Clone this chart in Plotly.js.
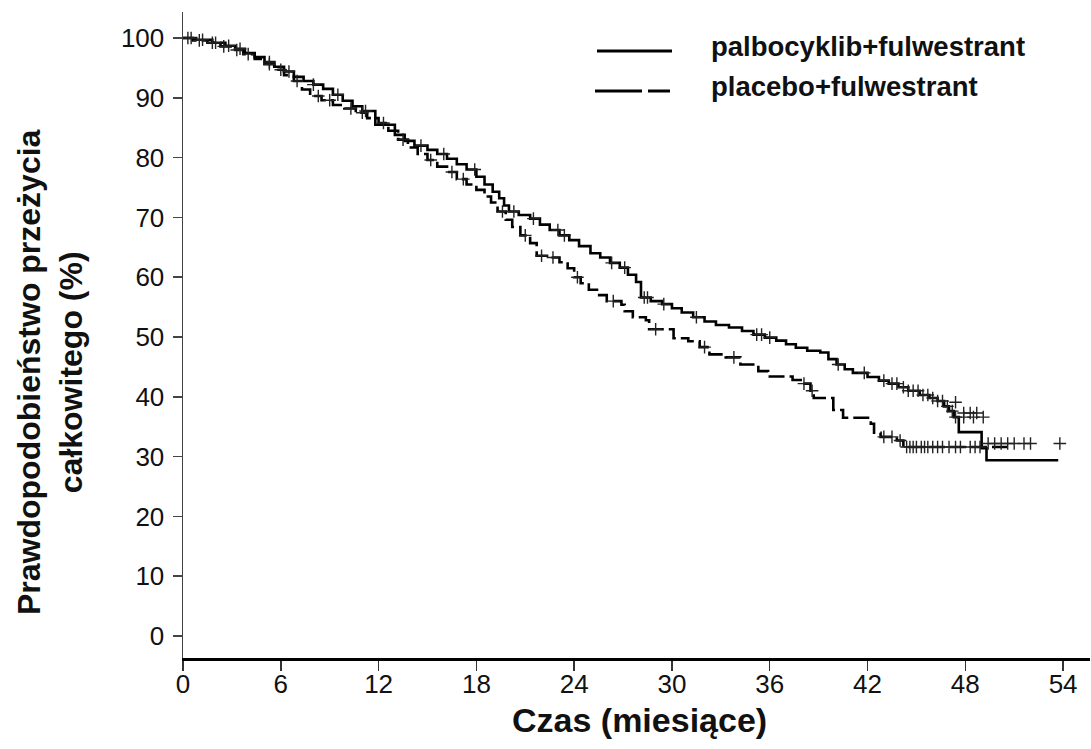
<!DOCTYPE html>
<html><head><meta charset="utf-8">
<script src="https://cdn.plot.ly/plotly-3.0.1.min.js"></script>
<style>html,body{margin:0;padding:0;background:#fff}#chart{width:1091px;height:749px}</style>
</head><body><div id="chart"></div>
<script>
// Kaplan-Meier step curves (time in months, survival %)
const palboTime = [0,0.8,1.8,2.6,3.2,3.8,4.4,5.0,5.6,6.2,6.8,7.4,8.0,8.6,9.2,9.8,10.4,11.0,11.8,13.0,13.6,14.2,15.0,15.6,16.2,16.8,17.4,18.0,18.5,19.0,19.4,19.7,20.0,20.6,21.3,21.9,22.5,23.1,23.7,24.3,25.0,25.6,26.2,26.8,27.3,27.8,28.1,28.7,29.4,30.0,30.6,31.3,32.0,32.7,33.5,34.3,35.0,35.7,36.4,37.0,37.6,38.3,39.1,39.6,40.1,40.6,41.1,42.0,42.7,43.3,43.9,44.5,45.2,45.8,46.3,46.7,47.0,47.3,47.6,49.0,49.3,53.7];
const palboSurv = [100,99.7,99.2,98.7,98.2,97.5,96.8,96.0,95.2,94.4,93.5,92.8,92.2,91.5,90.5,89.5,88.6,87.8,85.5,83.8,82.8,82.0,81.3,80.6,79.8,78.9,78.0,76.8,75.5,74.3,73.2,72.0,71.0,70.4,69.8,68.8,67.9,67.0,66.2,65.2,64.0,63.3,62.4,61.6,60.4,59.2,56.6,56.0,55.5,54.8,54.1,53.3,52.6,52.0,51.6,51.0,50.4,49.9,49.4,48.8,48.2,47.7,47.4,46.3,45.4,44.6,44.0,43.3,42.7,42.2,41.6,41.0,40.3,39.8,39.3,38.4,37.6,36.6,34.1,31.4,29.4,29.4];

const placeboTime = [0,0.6,1.5,2.3,3.0,3.7,4.4,5.0,5.6,6.2,6.8,7.3,7.8,8.5,9.2,9.9,10.6,11.3,12.0,12.6,13.2,13.8,14.4,15.0,15.6,16.2,16.8,17.4,18.0,18.5,18.9,19.3,19.8,20.2,20.7,21.3,21.7,22.5,23.1,23.6,24.0,24.4,24.9,25.4,26.0,26.9,27.1,27.6,28.4,28.6,30.1,31.0,31.7,32.3,33.3,34.2,35.3,35.9,37.4,37.9,38.5,38.7,39.9,40.5,42.2,42.4,42.8,43.8,44.2,50.9];
const placeboSurv = [100,99.6,99.2,98.6,98.0,97.3,96.5,95.6,94.7,93.8,92.8,91.4,90.3,89.6,88.8,88.2,87.5,86.6,85.8,84.5,83.0,81.7,80.6,79.6,78.5,77.6,76.4,75.5,74.6,73.5,72.5,71.0,69.6,68.4,67.0,65.7,63.6,63.3,62.5,61.5,60.0,59.0,57.9,57.0,56.0,55.4,54.3,53.3,52.8,51.3,49.8,49.3,48.3,47.1,46.6,45.4,44.3,43.4,42.8,42.2,41.0,39.8,37.8,36.5,35.5,34.0,33.3,32.7,31.6,31.6];

// censored observations (+ marks)
const palboCensTime = [0.5,1.2,2.0,2.8,3.5,5.3,6.5,8.0,9.5,11.2,14.6,16.0,17.9,20.3,21.5,23.0,23.4,26.3,27.1,28.3,28.5,29.5,31.5,35.2,35.5,36.0,40.2,41.8,43.0,43.5,43.8,44.2,44.5,44.8,45.1,45.4,45.7,46.0,46.3,46.6,46.9,47.2,47.4,47.4,47.9,48.3,48.7,47.9,48.5,49.1];
const palboCensSurv = [100,99.7,99.2,98.7,98.2,96.0,94.4,92.2,90.5,87.8,82.0,80.6,78.0,71.0,69.8,67.9,67.0,62.4,61.6,56.6,56.6,55.5,53.3,50.4,50.4,49.9,45.4,44.0,42.7,42.2,42.2,41.6,41.0,41.0,41.0,40.3,40.3,39.8,39.3,39.3,38.4,37.6,36.6,39.1,37.3,37.3,37.3,36.6,36.6,36.6];

const placeboCensTime = [0.3,1.0,1.8,2.5,3.3,4.0,5.3,6.0,7.0,8.3,9.0,10.3,11.0,12.3,13.5,15.2,16.5,17.2,19.6,21.0,22.0,22.7,24.2,26.4,29.0,32.0,33.8,38.1,38.6,43.0,43.5,44.0,44.4,44.6,44.8,45.0,45.3,45.5,45.7,46.0,46.3,46.6,47.0,47.4,47.7,48.3,48.6,48.9,49.4,49.8,50.2,50.6,51.0,51.6,52.0,53.8];
const placeboCensSurv = [100,99.6,99.2,98.6,98.0,97.3,95.6,94.7,92.8,90.3,89.6,88.2,87.5,85.8,83.0,79.6,77.6,76.4,71.0,67.0,63.6,63.3,60.0,56.0,51.3,48.3,46.6,42.2,41.0,33.3,33.3,32.7,31.6,31.6,31.6,31.6,31.6,31.6,31.6,31.6,31.6,31.6,31.6,31.6,31.6,31.6,31.6,31.6,32.2,32.2,32.2,32.2,32.2,32.2,32.2,32.2];

const xTicks = [0,6,12,18,24,30,36,42,48,54];
const yTicks = [0,10,20,30,40,50,60,70,80,90,100];
const seriesNames = ['palbocyklib+fulwestrant','placebo+fulwestrant'];
const xTitle = 'Czas (miesiące)';
const yTitle = 'Prawdopodobieństwo przeżycia<br>całkowitego (%)';

const FONT = 'Liberation Sans, Arial, sans-serif';
const traces = [
  {x: palboTime, y: palboSurv, mode:'lines', line:{shape:'hv', color:'#000', width:2.6}, name:seriesNames[0]},
  {x: placeboTime, y: placeboSurv, mode:'lines', line:{shape:'hv', color:'#000', width:2.6, dash:'16px,5px'}, name:seriesNames[1]},
  {x: palboCensTime, y: palboCensSurv, mode:'markers', marker:{symbol:'cross-thin', size:9, color:'#000', line:{color:'#222', width:1.4}}},
  {x: placeboCensTime, y: placeboCensSurv, mode:'markers', marker:{symbol:'cross-thin', size:9, color:'#000', line:{color:'#222', width:1.4}}}
];

const W = 1091, H = 749, L = 183, R = 1, T = 12, B = 91;
const pw = W - L - R, ph = H - T - B;
const px = v => (v - L) / pw;      // pixel -> paper x
const py = v => (H - B - v) / ph;  // pixel -> paper y

const layout = {
  width: W, height: H,
  margin: {l: L, r: R, t: T, b: B, pad: 0},
  paper_bgcolor: '#fff', plot_bgcolor: '#fff',
  showlegend: false,
  font: {family: FONT, color: '#111'},
  xaxis: {
    range: [0, 55.65], tickvals: xTicks, ticktext: xTicks.map(String),
    showgrid: false, zeroline: false, showline: true, linecolor: '#000', linewidth: 3,
    ticks: 'outside', ticklen: 10, tickwidth: 1.5, tickcolor: '#333',
    tickfont: {family: FONT, size: 26, color: '#111'}, ticklabelstandoff: -9
  },
  yaxis: {
    range: [-3.68, 104.35], tickvals: yTicks, ticktext: yTicks.map(String),
    showgrid: false, zeroline: false, showline: true, linecolor: '#444', linewidth: 1.5,
    ticks: 'outside', ticklen: 9, tickwidth: 1.5, tickcolor: '#444',
    tickfont: {family: FONT, size: 26, color: '#111'}, ticklabelstandoff: 3
  },
  shapes: [
    {type:'line', xref:'paper', yref:'paper', x0:px(597), x1:px(672), y0:py(51), y1:py(51), line:{color:'#000', width:3}},
    {type:'line', xref:'paper', yref:'paper', x0:px(595), x1:px(642), y0:py(91), y1:py(91), line:{color:'#000', width:3}},
    {type:'line', xref:'paper', yref:'paper', x0:px(648), x1:px(670), y0:py(91), y1:py(91), line:{color:'#000', width:3}}
  ],
  annotations: [
    {text: seriesNames[0], xref:'paper', yref:'paper', x:px(709), y:py(47), xanchor:'left', yanchor:'middle', showarrow:false,
     font:{family:FONT, size:27.5, weight:'bold', color:'#111'}},
    {text: seriesNames[1], xref:'paper', yref:'paper', x:px(709), y:py(86), xanchor:'left', yanchor:'middle', showarrow:false,
     font:{family:FONT, size:27.5, weight:'bold', color:'#111'}},
    {text: xTitle, xref:'paper', yref:'paper', x:px(639), y:0, yshift:-62, xanchor:'center', yanchor:'middle', showarrow:false,
     font:{family:FONT, size:34, weight:'bold', color:'#111'}},
    {text: yTitle, xref:'paper', yref:'paper', x:0, xshift:-133, y:py(372), xanchor:'center', yanchor:'middle', textangle:-90, showarrow:false,
     font:{family:FONT, size:32, weight:'bold', color:'#111'}}
  ]
};

Plotly.newPlot('chart', traces, layout, {displayModeBar:false, staticPlot:true});
</script></body></html>
